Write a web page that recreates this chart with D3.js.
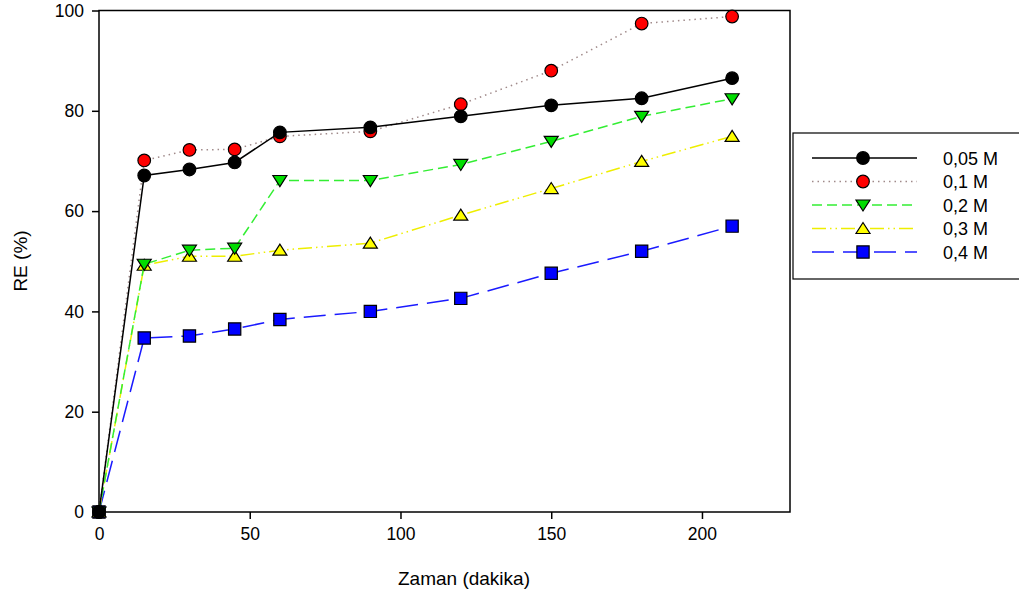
<!DOCTYPE html>
<html>
<head>
<meta charset="utf-8">
<script src="https://cdn.jsdelivr.net/npm/d3@7"></script>
<style>
  body { margin: 0; background: #fff; }
  svg text { font-family: "Liberation Sans", Arial, sans-serif; fill: #000; }
  .axis path, .axis line { stroke: #000; stroke-width: 1.5; }
</style>
</head>
<body>
<svg width="1019" height="594"></svg>
<script>
// time in minutes
var times = [0, 15, 30, 45, 60, 90, 120, 150, 180, 210];
var seriesNames = ["0,05 M", "0,1 M", "0,2 M", "0,3 M", "0,4 M"];
var re005 = [0, 67.1, 68.3, 69.7, 75.7, 76.7, 78.9, 81.1, 82.5, 86.5];
var re01  = [0, 70.1, 72.2, 72.3, 74.9, 75.9, 81.3, 88.0, 97.4, 98.8];
var re02  = [0, 49.4, 52.2, 52.6, 66.1, 66.1, 69.3, 73.9, 78.9, 82.4];
var re03  = [0, 49.2, 51.0, 51.0, 52.2, 53.6, 59.2, 64.5, 69.9, 74.9];
var re04  = [0, 34.7, 35.1, 36.5, 38.4, 40.0, 42.6, 47.6, 52.0, 57.0];
var yTicks = [0, 20, 40, 60, 80, 100];
var xTicks = [0, 50, 100, 150, 200];

var styles = [
  {stroke: "#000", dash: null, fill: "#000", sym: d3.symbolCircle},
  {stroke: "#a08a8a", dash: "1.5,4", fill: "#ff0000", sym: d3.symbolCircle},
  {stroke: "#33ee33", dash: "10,5", fill: "#00dd00", sym: "down"},
  {stroke: "#eeee00", dash: "14,4,1.5,4,1.5,4", fill: "#ffff00", sym: "up"},
  {stroke: "#1a1aff", dash: "22,9", fill: "#0000ff", sym: d3.symbolSquare}
];
var allSeries = [re005, re01, re02, re03, re04];

var svg = d3.select("svg");
var x = d3.scaleLinear().domain([0, 229.2]).range([99, 790]);
var y = d3.scaleLinear().domain([0, 100]).range([512, 10.5]);

// frame
svg.append("rect").attr("x", 99).attr("y", 10.5).attr("width", 691).attr("height", 501.5)
  .attr("fill", "none").attr("stroke", "#000").attr("stroke-width", 1.5);

svg.append("g").attr("class", "axis").attr("transform", "translate(0,512)")
  .call(d3.axisBottom(x).tickValues(xTicks).tickSize(7).tickPadding(9).tickFormat(d3.format("d")))
  .call(g => g.select(".domain").remove())
  .call(g => g.selectAll("text").style("font-size", "17.5px").attr("font-family", null));
svg.append("g").attr("class", "axis").attr("transform", "translate(99,0)")
  .call(d3.axisLeft(y).tickValues(yTicks).tickSize(7).tickPadding(8).tickFormat(d3.format("d")))
  .call(g => g.select(".domain").remove())
  .call(g => g.selectAll("text").style("font-size", "17.5px"));
svg.selectAll(".axis").attr("font-family", null).attr("font-size", null);

svg.append("text").attr("x", 464).attr("y", 585).attr("text-anchor", "middle")
  .style("font-size", "19px").text("Zaman (dakika)");
svg.append("text").attr("transform", "translate(27,261) rotate(-90)").attr("text-anchor", "middle")
  .style("font-size", "19px").text("RE (%)");

function drawMarker(g, s, cx, cy) {
  if (s.sym === "down" || s.sym === "up") {
    var h = 11, w = 7;
    var pts = s.sym === "down"
      ? [[cx - w, cy - h / 2 + 0.5], [cx + w, cy - h / 2 + 0.5], [cx, cy + h / 2 + 0.5]]
      : [[cx - w, cy + h / 2 - 0.5], [cx + w, cy + h / 2 - 0.5], [cx, cy - h / 2 - 0.5]];
    g.append("path").attr("d", "M" + pts.join("L") + "Z")
      .attr("fill", s.fill).attr("stroke", "#000").attr("stroke-width", 1.2);
  } else {
    var size = s.sym === d3.symbolSquare ? 150 : 125;
    g.append("path").attr("d", d3.symbol().type(s.sym).size(size)())
      .attr("transform", "translate(" + cx + "," + cy + ")")
      .attr("fill", s.fill).attr("stroke", "#000").attr("stroke-width", 1.2);
  }
}

var line = d3.line().x((d, i) => x(times[i])).y(d => y(d));

// draw in reverse so the first series ends on top
for (var k = allSeries.length - 1; k >= 0; k--) {
  var s = styles[k];
  var g = svg.append("g");
  g.append("path").datum(allSeries[k]).attr("d", line)
    .attr("fill", "none").attr("stroke", s.stroke).attr("stroke-width", 1.5)
    .attr("stroke-dasharray", s.dash);
  allSeries[k].forEach(function (v, i) { drawMarker(g, s, x(times[i]), y(v)); });
}

// legend
var lg = svg.append("g");
lg.append("rect").attr("x", 793).attr("y", 133).attr("width", 240).attr("height", 146)
  .attr("fill", "#fff").attr("stroke", "#000").attr("stroke-width", 1.2);
seriesNames.forEach(function (name, i) {
  var s = styles[i], ly = 158 + i * 23.5;
  lg.append("line").attr("x1", 812).attr("x2", 917).attr("y1", ly).attr("y2", ly)
    .attr("stroke", s.stroke).attr("stroke-width", 1.5).attr("stroke-dasharray", s.dash);
  drawMarker(lg, s, 863, ly);
  lg.append("text").attr("x", 943).attr("y", ly + 6.5).style("font-size", "18px").text(name);
});
</script>
</body>
</html>
